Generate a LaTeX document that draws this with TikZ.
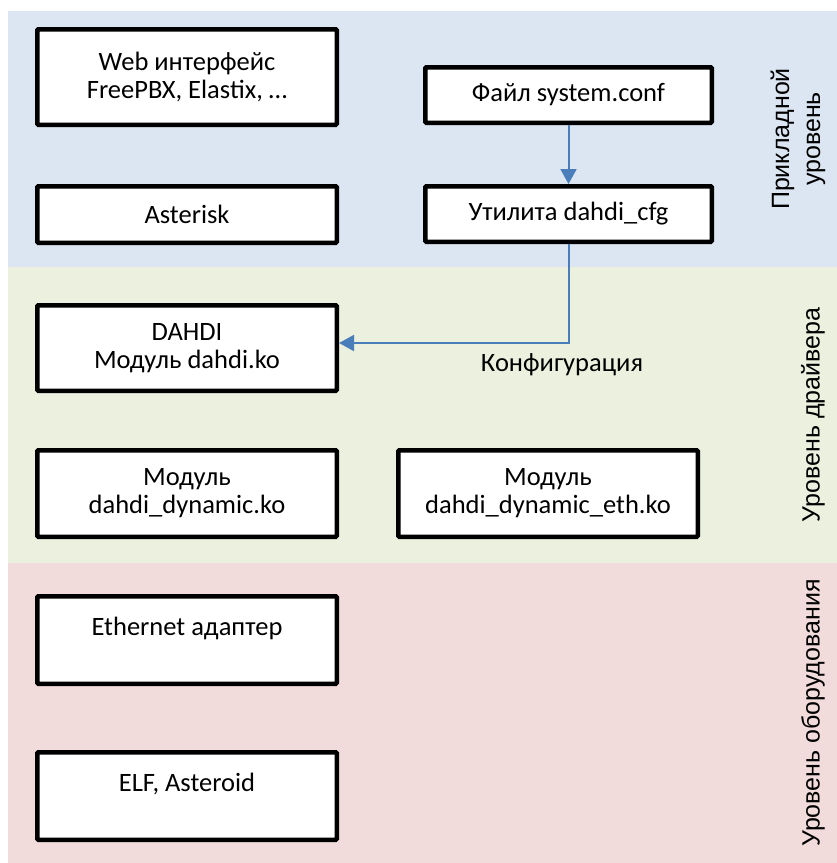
\documentclass[tikz,border=0pt]{standalone}
\usepackage{fontspec}
\setmainfont{Carlito}
\newfontfamily\levelfont{Liberation Sans}
\usetikzlibrary{arrows.meta, positioning}

\definecolor{applevel}{HTML}{DCE6F2}
\definecolor{drvlevel}{HTML}{EBF1DE}
\definecolor{hwlevel}{HTML}{F2DCDB}
\definecolor{flowblue}{HTML}{4A7EBB}

\begin{document}
\begin{tikzpicture}[
            > = {Triangle[width=16pt, length=15pt]}, % arrow head style
            flow/.style = {->, draw = flowblue, line width = 2pt},
            node distance = 57pt, % gap between boxes
            font = \fontsize{26.5}{28}\selectfont
        ]

        \tikzset{
            block/.style = {
                draw = black,
                line width = 4.5pt,
                fill = white,
                rounded corners = 1pt,
                align = center,
                minimum width = 299.5pt
            },
            level/.style = {
                rotate = 90,
                align = center,
                font = \levelfont\fontsize{25}{31}\selectfont
            }
        }

        % frame and layers
        \useasboundingbox (0pt,0pt) rectangle (837pt,-863pt);
        \fill[applevel] (8pt,-11pt) rectangle (837pt,-267pt);
        \fill[drvlevel] (8pt,-267pt) rectangle (837pt,-563pt);
        \fill[hwlevel] (8pt,-563pt) rectangle (837pt,-863pt);

        % left column
        \node[block, minimum height=95.5pt] (web) at (187pt,-77pt) {Web интерфейс\\FreePBX, Elastix, \dots};
        \node[block, minimum height=56.5pt] (asterisk) [below=57pt of web] {Asterisk};
        \node[block, minimum height=85.5pt] (dahdi) [below=58pt of asterisk] {DAHDI\\Модуль dahdi.ko};
        \node[block, minimum height=86.5pt] (dyn) [below=55pt of dahdi] {Модуль\\dahdi\_dynamic.ko};
        \node[block, minimum height=87.5pt] (eth) [below=55pt of dyn] {Ethernet адаптер\\\mbox{}};
        \node[block, minimum height=87.5pt] (elf) [below=64pt of eth] {ELF, Asteroid\\\mbox{}};

        % right column
        \node[block, minimum width=286.5pt, minimum height=55.5pt] (sysconf) at (568.5pt,-95pt) {Файл system.conf};
        \node[block, minimum width=286.5pt, minimum height=55.5pt] (cfgutil) [below=59pt of sysconf] {Утилита dahdi\_cfg};
        \node[block, minimum height=86.5pt] (dyneth) [right=of dyn] {Модуль\\dahdi\_dynamic\_eth.ko};

        \node (cfglabel) at (562pt,-365pt) {Конфигурация};

        % layer names
        \node[level] (applabel) at (798pt,-139pt) {Прикладной\\уровень};
        \node[level] (drvlabel) at (813pt,-415pt) {Уровень драйвера};
        \node[level] (hwlabel) at (813pt,-713pt) {Уровень оборудования};

        \draw[flow] (sysconf) -- (cfgutil);
        \draw[flow] (cfgutil.south) |- ([yshift=5pt]dahdi.east);

\end{tikzpicture}
\end{document}
